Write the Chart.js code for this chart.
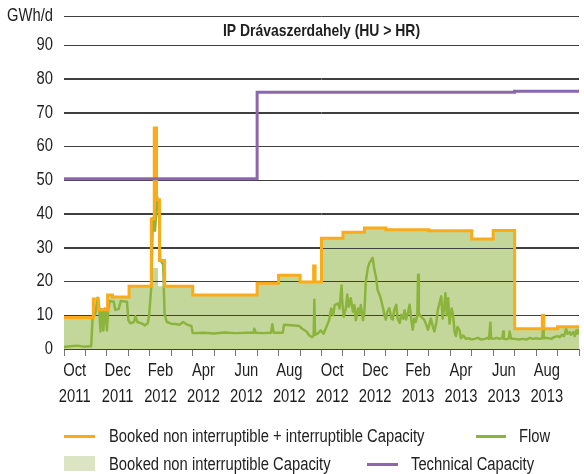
<!DOCTYPE html>
<html>
<head>
<meta charset="utf-8">
<script src="https://cdn.jsdelivr.net/npm/chart.js@4.4.1/dist/chart.umd.min.js"></script>
<style>
  html, body { margin: 0; padding: 0; background: #fff; }
  #wrap { position: relative; width: 584px; height: 474px; overflow: hidden;
          font-family: 'Liberation Sans', Arial, sans-serif; color: #222; }
  #c { position: absolute; left: 0; top: 0; }
  .lg { position: absolute; font-size: 18px; line-height: 20px; white-space: nowrap;
        transform: scaleX(0.82); transform-origin: 0 50%; }
  .ln { position: absolute; height: 3px; }
  .sw { position: absolute; width: 31px; height: 15px; background: #dce5c3; }
</style>
</head>
<body>
<div id="wrap">
  <canvas id="c" width="584" height="474"></canvas>
  <div class="ln" style="left:64px;top:435px;width:31px;background:#fbab18"></div>
  <div class="lg" style="left:109px;top:426px">Booked non interruptible + interruptible Capacity</div>
  <div class="ln" style="left:476px;top:435px;width:30px;background:#8cb43c"></div>
  <div class="lg" style="left:519px;top:426px">Flow</div>
  <div class="sw" style="left:64px;top:456px"></div>
  <div class="lg" style="left:109px;top:454px">Booked non interruptible Capacity</div>
  <div class="ln" style="left:367px;top:463px;width:31px;background:#8b68ad"></div>
  <div class="lg" style="left:411px;top:454px">Technical Capacity</div>
</div>
<script>
const FONT = "'Liberation Sans', Arial, sans-serif";
const NARROW = 0.82; // horizontal squeeze applied to canvas text

const titleText = 'IP Drávaszerdahely (HU > HR)';
const unitLabel = 'GWh/d';

// x-axis labels, one every second month
const tickMonths = ['Oct', 'Dec', 'Feb', 'Apr', 'Jun', 'Aug', 'Oct', 'Dec', 'Feb', 'Apr', 'Jun', 'Aug'];
const tickYears  = ['2011', '2011', '2012', '2012', '2012', '2012', '2012', '2012', '2013', '2013', '2013', '2013'];

// Technical capacity (GWh/d), value valid from each date on
const technicalDates  = ['2011-10-01', '2012-07-01', '2013-07-01', '2013-10-01'];
const technicalValues = [50.4, 76.0, 76.3, 76.3];

// Booked non interruptible + interruptible capacity (GWh/d)
const bookedTotalDates = ['2011-10-01', '2011-11-12', '2011-11-19', '2011-12-02', '2011-12-09', '2012-01-02',
  '2012-02-03', '2012-02-07', '2012-02-10', '2012-02-14', '2012-02-21', '2012-04-01', '2012-07-01',
  '2012-08-01', '2012-09-01', '2012-09-20', '2012-09-22', '2012-10-01', '2012-11-01', '2012-12-01',
  '2013-01-01', '2013-03-01', '2013-05-01', '2013-06-01', '2013-07-01', '2013-08-10', '2013-08-12',
  '2013-09-01', '2013-10-01'];
const bookedTotalValues = [9.3, 14.8, 11.6, 16.0, 15.4, 18.6,
  38.5, 65.4, 44.2, 26.2, 18.6, 16.0, 19.5,
  21.8, 19.8, 24.6, 19.8, 32.8, 34.6, 35.8,
  35.3, 35.0, 32.6, 35.1, 6.0, 9.9, 6.0,
  6.6, 6.6];

// Booked non interruptible capacity (GWh/d)
const bookedFirmDates = ['2011-10-01', '2011-11-12', '2011-11-19', '2011-12-02', '2011-12-09', '2012-01-02',
  '2012-02-04', '2012-02-12', '2012-04-01', '2012-07-01', '2012-08-01', '2012-09-01', '2012-10-01',
  '2012-11-01', '2012-12-01', '2013-01-01', '2013-03-01', '2013-05-01', '2013-06-01', '2013-07-01',
  '2013-09-01', '2013-10-01'];
const bookedFirmValues = [9.3, 14.8, 11.6, 16.0, 15.4, 18.6,
  24.0, 18.6, 16.0, 19.5, 21.8, 19.8, 32.8,
  34.6, 35.8, 35.3, 35.0, 32.6, 35.1, 6.0,
  6.6, 6.6];

// Physical flow (GWh/d)
const flowDates = [
  '2011-10-01', '2011-10-10', '2011-10-20', '2011-10-29', '2011-11-07', '2011-11-09', '2011-11-11', '2011-11-14',
  '2011-11-16', '2011-11-18', '2011-11-20', '2011-11-22', '2011-11-23', '2011-11-25', '2011-11-26', '2011-11-28',
  '2011-11-29', '2011-12-01', '2011-12-03', '2011-12-05', '2011-12-11', '2011-12-13', '2011-12-18', '2011-12-21',
  '2011-12-30', '2012-01-01', '2012-01-04', '2012-01-09', '2012-01-11', '2012-01-14', '2012-01-20', '2012-01-25',
  '2012-01-29', '2012-01-31', '2012-02-03', '2012-02-05', '2012-02-08', '2012-02-11', '2012-02-13', '2012-02-15',
  '2012-02-19', '2012-02-21', '2012-02-24', '2012-03-01', '2012-03-07', '2012-03-13', '2012-03-18', '2012-03-23',
  '2012-03-30', '2012-04-01', '2012-04-16', '2012-05-01', '2012-05-16', '2012-06-01', '2012-06-16', '2012-06-26',
  '2012-06-27', '2012-06-29', '2012-07-10', '2012-07-21', '2012-07-23', '2012-07-25', '2012-08-07', '2012-08-09',
  '2012-08-20', '2012-08-31', '2012-09-04', '2012-09-10', '2012-09-14', '2012-09-18', '2012-09-20', '2012-09-21',
  '2012-09-22', '2012-09-26', '2012-09-30', '2012-10-04', '2012-10-08', '2012-10-12', '2012-10-15', '2012-10-18',
  '2012-10-20', '2012-10-25', '2012-10-27', '2012-10-30', '2012-10-31', '2012-11-02', '2012-11-05', '2012-11-07',
  '2012-11-09', '2012-11-12', '2012-11-15', '2012-11-17', '2012-11-19', '2012-11-22', '2012-11-24', '2012-11-26',
  '2012-11-29', '2012-12-01', '2012-12-03', '2012-12-06', '2012-12-08', '2012-12-11', '2012-12-13', '2012-12-15',
  '2012-12-18', '2012-12-20', '2012-12-23', '2012-12-25', '2012-12-28', '2012-12-30', '2013-01-01', '2013-01-03',
  '2013-01-06', '2013-01-09', '2013-01-11', '2013-01-13', '2013-01-16', '2013-01-18', '2013-01-21', '2013-01-23',
  '2013-01-26', '2013-01-28', '2013-01-30', '2013-02-02', '2013-02-04', '2013-02-06', '2013-02-08', '2013-02-10',
  '2013-02-12', '2013-02-14', '2013-02-15', '2013-02-16', '2013-02-19', '2013-02-23', '2013-02-26', '2013-02-28',
  '2013-03-04', '2013-03-07', '2013-03-09', '2013-03-12', '2013-03-14', '2013-03-17', '2013-03-19', '2013-03-21',
  '2013-03-23', '2013-03-25', '2013-03-27', '2013-03-29', '2013-03-31', '2013-04-03', '2013-04-05', '2013-04-07',
  '2013-04-09', '2013-04-11', '2013-04-14', '2013-04-16', '2013-04-19', '2013-04-23', '2013-04-27', '2013-05-01',
  '2013-05-05', '2013-05-10', '2013-05-15', '2013-05-20', '2013-05-24', '2013-05-26', '2013-05-28', '2013-05-29',
  '2013-06-01', '2013-06-06', '2013-06-10', '2013-06-14', '2013-06-15', '2013-06-16', '2013-06-20', '2013-06-23',
  '2013-06-24', '2013-06-26', '2013-07-01', '2013-07-07', '2013-07-13', '2013-07-18', '2013-07-23', '2013-07-27',
  '2013-08-01', '2013-08-06', '2013-08-10', '2013-08-11', '2013-08-12', '2013-08-16', '2013-08-23', '2013-08-27',
  '2013-09-01', '2013-09-04', '2013-09-07', '2013-09-10', '2013-09-13', '2013-09-15', '2013-09-18', '2013-09-20',
  '2013-09-23', '2013-09-25', '2013-09-27', '2013-09-29', '2013-09-30'];
const flowValues = [
  0.6, 0.8, 1.0, 0.7, 0.8, 0.8, 9.5, 10.0,
  11.8, 15.2, 13.0, 5.2, 11.8, 11.6, 5.5, 12.0,
  11.5, 5.5, 12.0, 14.2, 14.0, 11.6, 11.8, 14.2,
  14.0, 8.5, 7.6, 8.0, 9.7, 8.0, 7.6, 7.0,
  7.6, 10.0, 18.5, 38.8, 35.0, 45.0, 43.0, 26.4,
  25.0, 10.0, 8.0, 7.5, 7.4, 7.2, 8.0, 7.3,
  6.8, 4.7, 4.8, 4.6, 4.9, 4.7, 4.8, 4.8,
  6.0, 4.8, 4.7, 4.8, 7.3, 4.8, 4.8, 7.2,
  7.0, 6.8, 6.0, 5.2, 4.0, 3.5, 4.0, 14.6,
  4.2, 4.6, 5.5, 4.5, 6.5, 8.5, 12.0, 10.0,
  13.0, 13.5, 12.0, 18.8, 14.0, 9.6, 12.0, 16.1,
  12.5, 15.0, 11.0, 13.0, 8.5, 12.0, 10.5, 13.0,
  8.5, 11.0, 20.0, 24.0, 25.4, 26.4, 27.0, 24.0,
  21.0, 17.5, 16.0, 14.6, 12.1, 10.0, 8.7, 11.0,
  12.1, 9.0, 8.7, 11.5, 13.1, 9.0, 7.7, 10.1,
  9.0, 11.5, 8.7, 11.0, 13.1, 9.0, 5.7, 9.0,
  8.0, 10.0, 22.0, 10.6, 9.5, 8.7, 7.0, 5.7,
  9.0, 6.5, 5.2, 8.0, 11.6, 14.0, 15.6, 9.0,
  12.0, 16.5, 10.0, 15.0, 7.5, 12.0, 10.0, 5.0,
  3.8, 6.5, 5.5, 3.2, 4.0, 3.0, 3.2, 2.8,
  3.0, 3.3, 2.8, 3.0, 3.3, 3.0, 7.8, 3.2,
  3.0, 3.3, 3.0, 3.3, 5.2, 3.0, 2.9, 3.2,
  5.2, 3.0, 3.0, 2.8, 3.0, 2.8, 3.3, 3.0,
  3.2, 3.0, 3.2, 6.5, 3.2, 3.3, 3.0, 3.5,
  3.8, 3.5, 4.2, 3.8, 6.0, 4.5, 5.0, 4.2,
  5.0, 3.8, 5.5, 4.5, 6.0];

const COLORS = {
  orange: '#fbab18',
  flow: '#8cb43c',
  area: '#c4d79b',
  purple: '#8b68ad',
  grid: '#3f3f3f',
  text: '#1e1e1e'
};

// Month offset from 1 Oct 2011, fractional within each month
function monthIndex(s) {
  const [y, m, d] = s.split('-').map(Number);
  const days = new Date(y, m, 0).getDate();
  return (y - 2011) * 12 + (m - 10) + (d - 1) / days;
}
const points = (dates, values) => dates.map((d, i) => ({ x: monthIndex(d), y: values[i] }));

// Condensed lettering: squeeze every canvas label horizontally around its anchor
const narrowText = {
  id: 'narrowText',
  beforeInit(chart) {
    const ctx = chart.ctx;
    const fill = ctx.fillText.bind(ctx);
    ctx.fillText = function (text, x, y, maxWidth) {
      ctx.save();
      ctx.translate(x, y);
      ctx.scale(NARROW, 1);
      fill(text, 0, 0);
      ctx.restore();
    };
  }
};

// Redraws the horizontal grid over the filled area and adds the unit label, top rule and title
const frame = {
  id: 'frame',
  afterDatasetDraw(chart, args) {
    if (args.index !== 0) return;
    const { ctx, chartArea } = chart;
    const y = chart.scales.y;
    ctx.save();
    ctx.strokeStyle = COLORS.grid;
    ctx.lineWidth = 1;
    for (let v = 10; v <= 90; v += 10) {
      const py = Math.round(y.getPixelForValue(v)) + 0.5;
      ctx.beginPath();
      ctx.moveTo(chartArea.left, py);
      ctx.lineTo(chartArea.right, py);
      ctx.stroke();
    }
    ctx.restore();
  },
  afterDraw(chart) {
    const { ctx, chartArea } = chart;
    ctx.save();
    const top = 16.5;
    ctx.strokeStyle = COLORS.grid;
    ctx.lineWidth = 1;
    ctx.beginPath();
    ctx.moveTo(chartArea.left, top);
    ctx.lineTo(chartArea.right, top);
    ctx.stroke();
    ctx.fillStyle = COLORS.text;
    ctx.font = '18px ' + FONT;
    ctx.textAlign = 'right';
    ctx.textBaseline = 'middle';
    ctx.fillText(unitLabel, 53, top);
    ctx.font = 'bold 17px ' + FONT;
    ctx.textAlign = 'center';
    ctx.fillText(titleText, (chartArea.left + chartArea.right) / 2, 31);
    ctx.restore();
  }
};

new Chart(document.getElementById('c'), {
  type: 'line',
  data: {
    datasets: [
      {
        label: 'Booked non interruptible Capacity',
        data: points(bookedFirmDates, bookedFirmValues),
        stepped: true,
        fill: 'origin',
        backgroundColor: COLORS.area,
        borderColor: 'rgba(0,0,0,0)',
        borderWidth: 0,
        pointRadius: 0,
        order: 3
      },
      {
        label: 'Flow',
        data: points(flowDates, flowValues),
        borderColor: COLORS.flow,
        borderWidth: 2.5,
        borderJoinStyle: 'round',
        pointRadius: 0,
        fill: false,
        order: 2
      },
      {
        label: 'Booked non interruptible + interruptible Capacity',
        data: points(bookedTotalDates, bookedTotalValues),
        stepped: true,
        borderColor: COLORS.orange,
        borderWidth: 3,
        pointRadius: 0,
        fill: false,
        order: 1
      },
      {
        label: 'Technical Capacity',
        data: points(technicalDates, technicalValues),
        stepped: true,
        borderColor: COLORS.purple,
        borderWidth: 3,
        pointRadius: 0,
        fill: false,
        order: 0
      }
    ]
  },
  options: {
    responsive: false,
    animation: false,
    devicePixelRatio: 1,
    layout: { padding: { top: 45, right: 5, left: 0, bottom: 0 } },
    plugins: {
      legend: { display: false },
      tooltip: { enabled: false },
      title: { display: false }
    },
    scales: {
      x: {
        type: 'linear', min: 0, max: 24, position: 'bottom',
        ticks: { stepSize: 1, display: false },
        grid: { drawOnChartArea: false, tickLength: 7, color: '#777' },
        border: { display: false },
        afterFit(s) { s.height = 7; }
      },
      xl: {
        type: 'linear', min: 0, max: 24, position: 'bottom',
        grid: { display: false },
        border: { display: false },
        afterBuildTicks(axis) {
          axis.ticks = tickMonths.map((m, i) => ({ value: 2 * i + 0.5 }));
        },
        ticks: {
          autoSkip: false, maxRotation: 0, padding: -6,
          color: COLORS.text,
          font: { family: FONT, size: 18, lineHeight: 1.45 },
          callback: (v, i) => [tickMonths[i], tickYears[i]]
        },
        afterFit(s) { s.height = 118; }
      },
      y: {
        min: 0, max: 90,
        ticks: { stepSize: 10, padding: 11, color: COLORS.text, font: { family: FONT, size: 18 } },
        grid: { color: COLORS.grid, drawTicks: false },
        border: { display: false },
        afterFit(s) { s.width = 64; }
      }
    }
  },
  plugins: [narrowText, frame]
});
</script>
</body>
</html>
